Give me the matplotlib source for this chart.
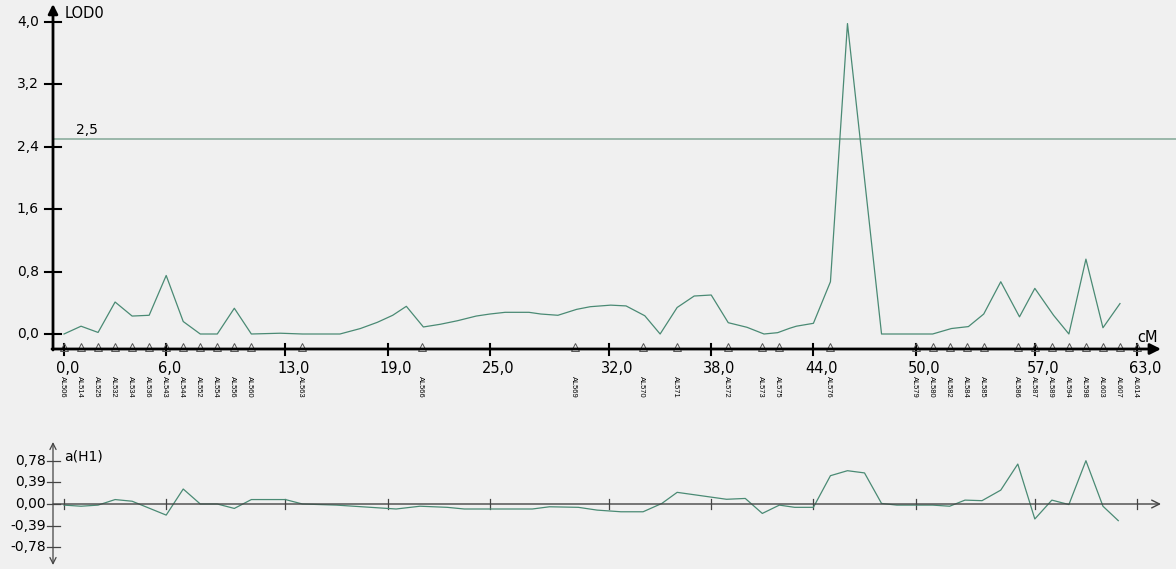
import matplotlib.pyplot as plt

plt.rcParams['font.family'] = ['DejaVu Sans']

# LOD profile along the linkage group (position in cM, LOD score)
lod_cm = [0, 1, 2, 3, 4, 5, 6, 7, 8, 9, 10, 11, 12.7, 14, 16.2, 17.4, 18.4, 19.3,
          20.1, 21.1, 22.1, 23.1, 24.2, 25.0, 25.9, 27.3, 28.0, 29.0, 30.1, 30.9,
          32.1, 33.0, 34.1, 35.0, 36.0, 37.0, 38.0, 39.0, 40.1, 41.1, 41.9, 42.6,
          43.0, 44.0, 45.0, 46.0, 48.0, 51.0, 52.1, 53.1, 54.0, 55.0, 56.1, 57.0,
          58.1, 59.0, 60.0, 61.0, 62.0]
lod_val = [0.0, 0.10, 0.02, 0.41, 0.23, 0.24, 0.75, 0.16, 0.0, 0.0, 0.33, 0.0, 0.01,
           0.0, 0.0, 0.07, 0.15, 0.24, 0.355, 0.09, 0.125, 0.17, 0.23, 0.256, 0.278,
           0.278, 0.256, 0.24, 0.316, 0.35, 0.37, 0.36, 0.234, 0.0, 0.34, 0.487, 0.5,
           0.145, 0.086, 0.0, 0.017, 0.073, 0.10, 0.137, 0.67, 3.98, 0.0, 0.0, 0.07,
           0.095, 0.256, 0.67, 0.22, 0.585, 0.24, 0.0, 0.96, 0.08, 0.39]

# additive effect a(H1)
a_cm = [0, 1, 2, 3, 4, 6, 7, 8, 9, 10, 11, 13, 14, 16, 17.5, 19, 19.5, 20.9, 22.5,
        23.5, 27.5, 28.5, 30.2, 31.3, 32.7, 34.0, 35.1, 36.0, 38.9, 40.0, 41.0, 42.0,
        42.9, 44.0, 45.0, 46.0, 47.0, 48.0, 48.9, 50.0, 51.0, 52.0, 52.9, 53.9, 55.0,
        56.0, 57.0, 58.0, 59.0, 60.0, 61.0, 61.9]
a_val = [-0.02, -0.04, -0.02, 0.08, 0.05, -0.20, 0.27, 0.0, 0.0, -0.08, 0.08, 0.08,
         0.0, -0.02, -0.05, -0.08, -0.09, -0.04, -0.06, -0.09, -0.09, -0.05, -0.06,
         -0.11, -0.14, -0.14, 0.01, 0.21, 0.085, 0.10, -0.17, -0.02, -0.06, -0.06,
         0.51, 0.60, 0.56, 0.01, -0.02, -0.02, -0.02, -0.04, 0.07, 0.06, 0.25, 0.72,
         -0.27, 0.07, -0.01, 0.78, -0.04, -0.30]

marker_names = ['AL506', 'AL514', 'AL525', 'AL532', 'AL534', 'AL536', 'AL543', 'AL544',
                'AL552', 'AL554', 'AL556', 'AL560', 'AL563', 'AL566', 'AL569', 'AL570',
                'AL571', 'AL572', 'AL573', 'AL575', 'AL576', 'AL579', 'AL580', 'AL582',
                'AL584', 'AL585', 'AL586', 'AL587', 'AL589', 'AL594', 'AL598', 'AL603',
                'AL607', 'AL614']
marker_cm = [0, 1, 2, 3, 4, 5, 6, 7, 8, 9, 10, 11, 14, 21, 30, 34, 36, 39, 41, 42, 45,
             50, 51, 52, 53, 54, 56, 57, 58, 59, 60, 61, 62, 63]

x_ticks = [0, 6, 13, 19, 25, 32, 38, 44, 50, 57, 63]
lod_ticks = [0.0, 0.8, 1.6, 2.4, 3.2, 4.0]
a_ticks = [-0.78, -0.39, 0.0, 0.39, 0.78]
threshold = 2.5

W, H = 1176, 569
PX = 17.032   # pixels per cM
X0 = 64       # pixel of 0 cM
LOD_PX = 78.0
LOD_ZERO = 334
A_PX = 55.5
A_ZERO = 504
line_col = '#4a8a74'


def fx(px):
    return (px - X0) / PX


def fl(py):
    return (LOD_ZERO - py) / LOD_PX


def fa(py):
    return (A_ZERO - py) / A_PX


def comma(v, n):
    return f"{v:.{n}f}".replace('.', ',')


fig = plt.figure(figsize=(W / 100, H / 100), dpi=100, facecolor='#f0f0f0')

# ---- main LOD panel
ax = fig.add_axes([0, 1 - 430 / H, 1, 430 / H])
ax.set_xlim(fx(0), fx(W))
ax.set_ylim(fl(430), fl(0))
ax.axis('off')

ax.axhline(threshold, xmin=(53) / W, xmax=1.0, color='#9ab7aa', lw=1.4)
ax.text(fx(76), threshold + 0.03, comma(threshold, 1), fontsize=10, va='bottom', ha='left')
ax.plot(lod_cm, lod_val, color=line_col, lw=0.9)

ax.annotate('', xy=(fx(1161), fl(349)), xytext=(fx(52), fl(349)),
            arrowprops=dict(arrowstyle='-|>', lw=2.0, color='black', mutation_scale=16,
                            shrinkA=0, shrinkB=0))
ax.annotate('', xy=(fx(53), fl(4)), xytext=(fx(53), fl(350)),
            arrowprops=dict(arrowstyle='-|>', lw=2.0, color='black', mutation_scale=14,
                            shrinkA=0, shrinkB=0))
for t in lod_ticks:
    ax.plot([fx(45), fx(61)], [t, t], color='black', lw=1.5)
    ax.text(fx(39), t, comma(t, 1), fontsize=10, ha='right', va='center')
for t in x_ticks:
    ax.plot([t, t], [fl(344), fl(355)], color='black', lw=1.5)
    ax.text(t - 8 / PX, fl(361), comma(t, 1), fontsize=10.5, ha='left', va='top')

ax.plot(marker_cm, [fl(346.5)] * len(marker_cm), '^', mfc='none', mec='#555555',
        ms=6, mew=0.7, clip_on=False)
for name, m in zip(marker_names, marker_cm):
    ax.text(m - 1.5 / PX, fl(376), name, rotation=-90, fontsize=5.4, ha='center', va='top',
            family='Liberation Sans')

ax.text(fx(65), fl(14), 'LOD0', fontsize=10.5, ha='left', va='center')
ax.text(fx(1137), fl(338), 'cM', fontsize=10.5, ha='left', va='center')

# ---- additive effect panel
bx = fig.add_axes([0, 0, 1, 139 / H])
bx.set_xlim(fx(0), fx(W))
bx.set_ylim(fa(569), fa(430))
bx.axis('off')

bx.annotate('', xy=(fx(1161), 0), xytext=(fx(53), 0),
            arrowprops=dict(arrowstyle='->', lw=1.0, color='#444444', mutation_scale=14,
                            shrinkA=0, shrinkB=0))
bx.annotate('', xy=(fx(53), fa(442)), xytext=(fx(53), fa(565)),
            arrowprops=dict(arrowstyle='<->', lw=0.9, color='#444444', mutation_scale=11,
                            shrinkA=0, shrinkB=0))
for t in a_ticks:
    bx.plot([fx(47), fx(60)], [t, t], color='#444444', lw=0.9)
    bx.text(fx(46), t, comma(t, 2), fontsize=10, ha='right', va='center')
for t in x_ticks:
    bx.plot([t, t], [fa(499), fa(509)], color='#444444', lw=0.9)
bx.plot(a_cm, a_val, color=line_col, lw=0.9)
bx.text(fx(64), fa(456), 'a(H1)', fontsize=10, ha='left', va='center')

fig.savefig('out.png', dpi=100, facecolor=fig.get_facecolor())
